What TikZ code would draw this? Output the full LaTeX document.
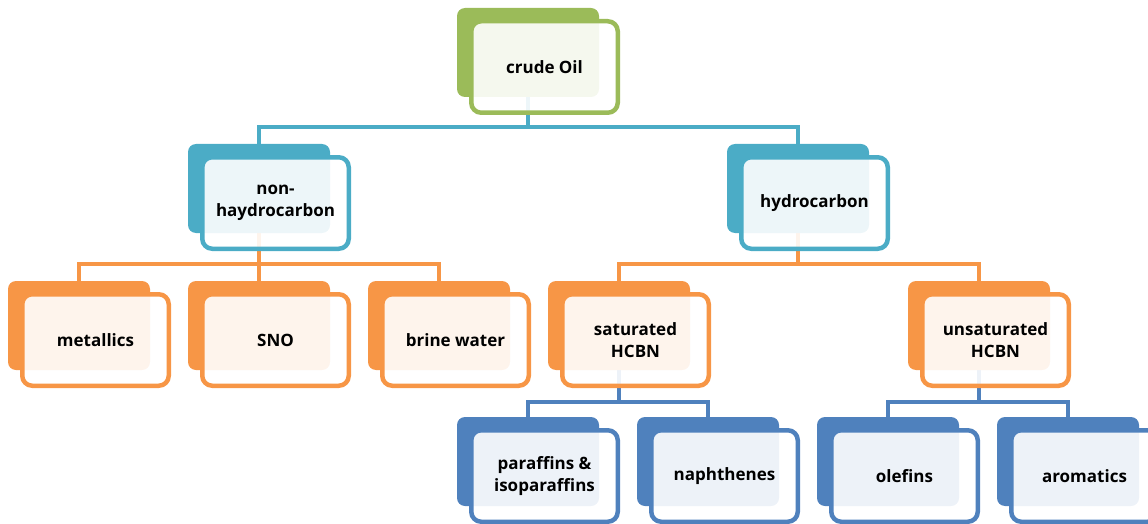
\documentclass[tikz,border=0pt]{standalone}
\usepackage{fontspec}
\setmainfont{Open Sans}
\usetikzlibrary{backgrounds}
\definecolor{cgreen}{HTML}{9BBB59}
\definecolor{caqua}{HTML}{4BACC6}
\definecolor{corange}{HTML}{F79646}
\definecolor{cblue}{HTML}{4F81BD}
\tikzset{
  backbox/.style={rectangle, rounded corners=8pt, inner sep=0pt, outer sep=0pt,
    minimum width=142pt, minimum height=89pt},
  frontbox/.style={rectangle, rounded corners=10pt, line width=4.5pt, inner sep=0pt, outer sep=0pt,
    minimum width=146.5pt, minimum height=91.5pt, fill=white, fill opacity=0.9, text opacity=1,
    align=center, font=\fontsize{17}{22}\selectfont\bfseries},
  link/.style={line width=4pt}
}
\newcommand\mknode[5]{%
  \node[backbox, fill=#2] (#1B) at (#3+71, #4+44.5) {};
  \node[frontbox, draw=#2] (#1) at (#3+87.5, #4+59) {#5};
}
\begin{document}
\begin{tikzpicture}[x=1pt, y=-1pt]
\useasboundingbox (0,0) rectangle (1148,524);
\clip (0,0) rectangle (1148,524);
\mknode{crude}{cgreen}{457}{8}{crude Oil}
\mknode{non}{caqua}{188}{144}{non-\\haydrocarbon}
\mknode{hyd}{caqua}{727}{144}{hydrocarbon}
\mknode{met}{corange}{8}{281}{metallics}
\mknode{sno}{corange}{188}{281}{SNO}
\mknode{brine}{corange}{368}{281}{brine water}
\mknode{sat}{corange}{548}{281}{saturated\\HCBN}
\mknode{unsat}{corange}{908}{281}{unsaturated\\HCBN}
\mknode{par}{cblue}{457}{417}{paraffins \&\\isoparaffins}
\mknode{nap}{cblue}{637}{417}{naphthenes}
\mknode{ole}{cblue}{817}{417}{olefins}
\mknode{aro}{cblue}{997}{417}{aromatics}
\begin{pgfonlayer}{background}
  \draw[link, caqua] (crudeB.south) -- ++(0,30) coordinate (b1) -| (nonB.north);
  \draw[link, caqua] (b1) -| (hydB.north);
  \draw[link, corange] (nonB.south) -- ++(0,31) coordinate (b2) -| (metB.north);
  \draw[link, corange] (b2) -| (snoB.north);
  \draw[link, corange] (b2) -| (brineB.north);
  \draw[link, corange] (hydB.south) -- ++(0,31) coordinate (b3) -| (satB.north);
  \draw[link, corange] (b3) -| (unsatB.north);
  \draw[link, cblue] (satB.south) -- ++(0,32) coordinate (b4) -| (parB.north);
  \draw[link, cblue] (b4) -| (napB.north);
  \draw[link, cblue] (unsatB.south) -- ++(0,32) coordinate (b5) -| (oleB.north);
  \draw[link, cblue] (b5) -| (aroB.north);
\end{pgfonlayer}
\end{tikzpicture}
\end{document}
